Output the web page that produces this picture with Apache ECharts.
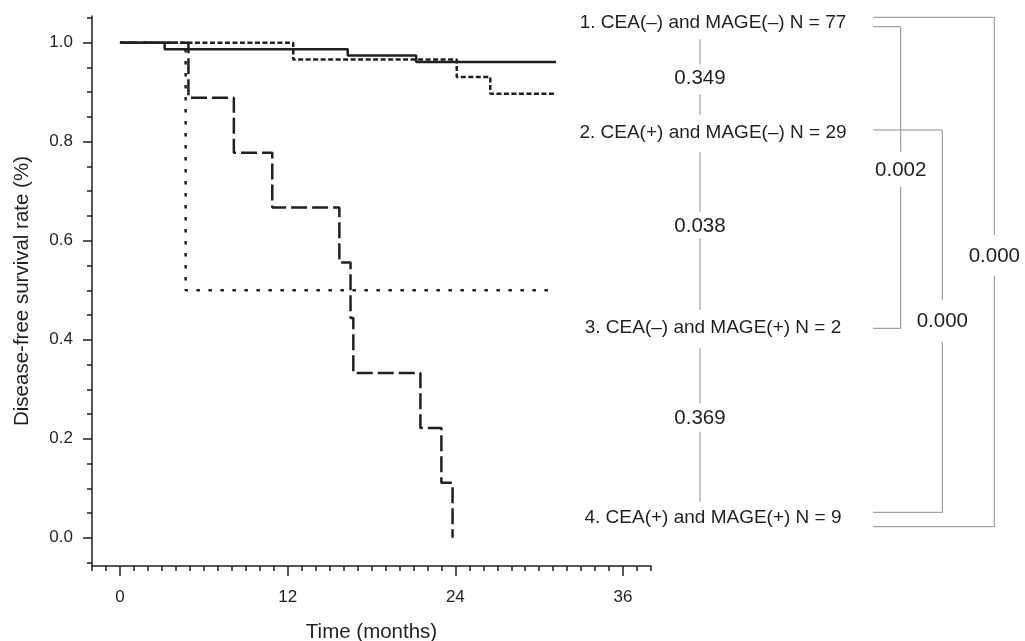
<!DOCTYPE html>
<html><head><meta charset="utf-8">
<script src="https://cdn.jsdelivr.net/npm/echarts@6/dist/echarts.min.js"></script>
<style>html,body{margin:0;padding:0;background:#fff}#c{width:1025px;height:641px}</style>
</head><body><div id="c"></div>
<script>
// ---------- data ----------
const groupLabels = [
  '1. CEA(\u2013) and MAGE(\u2013) N = 77',
  '2. CEA(+) and MAGE(\u2013) N = 29',
  '3. CEA(\u2013) and MAGE(+) N = 2',
  '4. CEA(+) and MAGE(+) N = 9'
];
// group 1: CEA(-) MAGE(-)  (solid)
const g1Times = [0, 3.2, 16.3, 21.2, 31.2];
const g1Surv  = [1, 0.987, 0.974, 0.961, 0.961];
// group 2: CEA(+) MAGE(-)  (short dash)
const g2Times = [0, 12.4, 24.1, 26.5, 31.2];
const g2Surv  = [1, 0.966, 0.931, 0.897, 0.897];
// group 3: CEA(-) MAGE(+)  (dotted)
const g3Times = [0, 4.7, 31.0];
const g3Surv  = [1, 0.5, 0.5];
// group 4: CEA(+) MAGE(+)  (long dash)
const g4Times = [0, 4.9, 8.15, 10.9, 15.7, 16.5, 16.7, 21.5, 23.0, 23.8];
const g4Surv  = [1, 0.889, 0.778, 0.667, 0.556, 0.444, 0.333, 0.222, 0.111, 0];

// pairwise log-rank p values
const pairFrom = [0, 1, 2, 0, 1, 0];
const pairTo   = [1, 2, 3, 2, 3, 3];
const pairP    = ['0.349', '0.038', '0.369', '0.002', '0.000', '0.000'];

// ticks
const xMajorTicks = [0, 12, 24, 36];
const xTickLabels = ['0', '12', '24', '36'];
const xMinorTicks = [-2,-1,0,1,2,3,4,5,6,7,8,9,10,11,12,13,14,15,16,17,18,19,20,21,22,23,24,25,26,27,28,29,30,31,32,33,34,35,36,37,38];
const yMajorTicks = [0, 0.2, 0.4, 0.6, 0.8, 1.0];
const yTickLabels = ['0.0', '0.2', '0.4', '0.6', '0.8', '1.0'];
const yMinorTicks = [-0.05,0,0.05,0.1,0.15,0.2,0.25,0.3,0.35,0.4,0.45,0.5,0.55,0.6,0.65,0.7,0.75,0.8,0.85,0.9,0.95,1.0,1.05];

// ---------- layout / style ----------
const INK = '#231f20';
const GRAY = '#8c8c8c';
const FONT = '"Liberation Sans", Arial, Helvetica, sans-serif';
const rowY = [23, 133, 328, 518];
const labelCX = 713;
const midX = 700;
// adjacent connectors: [topStart, topEnd, textY, botStart, botEnd]
const adjLayout = [
  [39.3, 64.3, 78.3, 94.3, 115],
  [152.3, 211.7, 226.7, 238.3, 310],
  [348.3, 403.3, 418.3, 431.7, 501.7]
];
// brackets: x, yTop, yBottom, textY, end of line above text, start of line below text
const brLayout = [
  {x: 900.7, yTop: 26.7, yBot: 328.3, ty: 170.7, a: 151.7, b: 186.7},
  {x: 942.3, yTop: 130, yBot: 512.3, ty: 321.7, a: 300, b: 341.7},
  {x: 994.3, yTop: 17.3, yBot: 526.7, ty: 256, a: 235, b: 276}
];
const brLeft = 873.3;

function pts(t, s) { return t.map((v, i) => [v, s[i]]); }
function lbl(ticks, labels) {
  return v => { const i = ticks.findIndex(t => Math.abs(t - v) < 1e-9); return i >= 0 ? labels[i] : ''; };
}

const graphics = [];
groupLabels.forEach((t, i) => {
  graphics.push({type: 'text', silent: true, style: {text: t, x: labelCX, y: rowY[i], align: 'center', verticalAlign: 'middle', font: '19px ' + FONT, fill: INK}});
});
function vline(x, y1, y2) {
  graphics.push({type: 'line', silent: true, shape: {x1: x, y1: y1, x2: x, y2: y2}, style: {stroke: GRAY, lineWidth: 1}});
}
function hline(x1, x2, y) {
  graphics.push({type: 'line', silent: true, shape: {x1: x1, y1: y, x2: x2, y2: y}, style: {stroke: GRAY, lineWidth: 1}});
}
function ptext(t, x, y) {
  graphics.push({type: 'text', silent: true, style: {text: t, x: x, y: y, align: 'center', verticalAlign: 'middle', font: '20.5px ' + FONT, fill: INK}});
}
let adj = 0, br = 0;
pairP.forEach((p, k) => {
  if (pairTo[k] - pairFrom[k] === 1) {
    const L = adjLayout[adj++];
    vline(midX, L[0], L[1]); ptext(p, midX, L[2]); vline(midX, L[3], L[4]);
  } else {
    const B = brLayout[br++];
    hline(brLeft, B.x, B.yTop); hline(brLeft, B.x, B.yBot);
    vline(B.x, B.yTop, B.a); ptext(p, B.x, B.ty); vline(B.x, B.b, B.yBot);
  }
});

const axisText = {color: INK, fontSize: 17, fontFamily: FONT};
const nameText = {color: INK, fontSize: 20.5, fontFamily: FONT};
const axLine = {color: INK, width: 1.5};

const chart = echarts.init(document.getElementById('c'), null, {renderer: 'canvas'});
chart.setOption({
  animation: false,
  backgroundColor: '#fff',
  grid: {left: 92, right: 374, top: 16, bottom: 75, containLabel: false, outerBoundsMode: 'none'},
  xAxis: [
    {type: 'value', min: -2, max: 38, position: 'bottom',
     axisLine: {show: true, onZero: false, lineStyle: axLine},
     axisTick: {show: true, customValues: xMajorTicks, length: 10, lineStyle: axLine},
     axisLabel: {customValues: xMajorTicks, formatter: lbl(xMajorTicks, xTickLabels), margin: 23, ...axisText},
     splitLine: {show: false},
     name: 'Time (months)', nameLocation: 'middle', nameGap: 56, nameTextStyle: nameText},
    {type: 'value', min: -2, max: 38, position: 'bottom',
     axisLine: {show: false, onZero: false},
     axisTick: {show: true, customValues: xMinorTicks, length: 5, lineStyle: axLine},
     axisLabel: {show: false}, splitLine: {show: false}}
  ],
  yAxis: [
    {type: 'value', min: -0.057, max: 1.054, position: 'left',
     axisLine: {show: true, onZero: false, lineStyle: axLine},
     axisTick: {show: true, customValues: yMajorTicks, length: 9, lineStyle: axLine},
     axisLabel: {customValues: yMajorTicks, formatter: lbl(yMajorTicks, yTickLabels), margin: 19, ...axisText},
     splitLine: {show: false},
     name: 'Disease-free survival rate (%)', nameLocation: 'middle', nameGap: 59, nameTextStyle: nameText},
    {type: 'value', min: -0.057, max: 1.054, position: 'left',
     axisLine: {show: false, onZero: false},
     axisTick: {show: true, customValues: yMinorTicks, length: 5, lineStyle: axLine},
     axisLabel: {show: false}, splitLine: {show: false}}
  ],
  series: [
    {name: groupLabels[2], type: 'line', step: 'end', data: pts(g3Times, g3Surv), symbol: 'none',
     lineStyle: {color: INK, width: 2.5, type: [3.5, 8.5]}},
    {name: groupLabels[3], type: 'line', step: 'end', data: pts(g4Times, g4Surv), symbol: 'none',
     lineStyle: {color: INK, width: 2.5, type: [16, 5]}},
    {name: groupLabels[1], type: 'line', step: 'end', data: pts(g2Times, g2Surv), symbol: 'none',
     lineStyle: {color: INK, width: 2.5, type: [5, 2.5]}},
    {name: groupLabels[0], type: 'line', step: 'end', data: pts(g1Times, g1Surv), symbol: 'none',
     lineStyle: {color: INK, width: 2.5, type: 'solid'}}
  ],
  graphic: graphics
});
</script>
</body></html>
